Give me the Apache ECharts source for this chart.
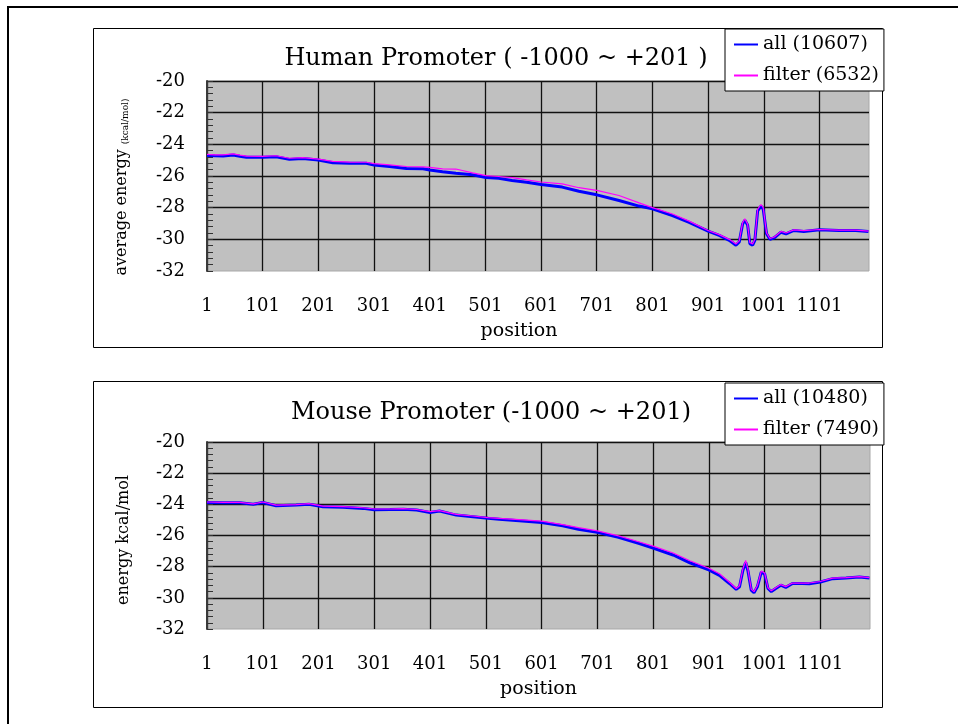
<!DOCTYPE html>
<html>
<head>
<meta charset="utf-8">
<script src="https://cdn.jsdelivr.net/npm/echarts@6/dist/echarts.min.js"></script>
<style>
html,body{margin:0;padding:0;background:#fff;}
#c{width:958px;height:724px;}
</style>
</head>
<body>
<div id="c"></div>
<script>
// ---- data ----
const xTicks = [1, 101, 201, 301, 401, 501, 601, 701, 801, 901, 1001, 1101];
const yTicks = [-20, -22, -24, -26, -28, -30, -32];

const humanTitle = 'Human Promoter ( -1000 ~ +201 )';
const mouseTitle = 'Mouse Promoter (-1000 ~ +201)';
const humanNames = ['all (10607)', 'filter (6532)'];
const mouseNames = ['all (10480)', 'filter (7490)'];

const humanPos = [1,15,30,48,60,72,101,125,149,173,201,227,257,287,301,329,359,389,401,424,448,478,502,525,549,575,601,639,669,701,741,777,801,837,867,901,921,939,951,957,963,967,972,976,981,985,990,996,1000,1006,1012,1020,1032,1041,1055,1073,1101,1136,1166,1189];
const humanAll = [-24.70,-24.72,-24.74,-24.67,-24.75,-24.82,-24.82,-24.78,-24.95,-24.90,-24.99,-25.16,-25.20,-25.20,-25.30,-25.40,-25.52,-25.54,-25.62,-25.73,-25.83,-25.92,-26.10,-26.15,-26.28,-26.40,-26.53,-26.70,-26.96,-27.19,-27.55,-27.90,-28.07,-28.50,-28.93,-29.48,-29.75,-30.06,-30.37,-30.16,-29.03,-28.80,-29.10,-30.27,-30.37,-30.06,-28.20,-27.90,-28.10,-29.65,-30.00,-29.90,-29.55,-29.65,-29.44,-29.50,-29.40,-29.44,-29.44,-29.50];
const humanFilter = [-24.63,-24.66,-24.66,-24.60,-24.68,-24.74,-24.76,-24.72,-24.88,-24.84,-24.93,-25.08,-25.12,-25.13,-25.22,-25.30,-25.40,-25.42,-25.45,-25.55,-25.56,-25.80,-25.98,-26.03,-26.10,-26.25,-26.38,-26.50,-26.74,-26.91,-27.23,-27.70,-28.00,-28.40,-28.85,-29.44,-29.70,-30.00,-30.30,-30.10,-28.95,-28.70,-29.05,-30.20,-30.30,-30.00,-28.10,-27.80,-28.00,-29.60,-29.95,-29.85,-29.50,-29.60,-29.40,-29.45,-29.38,-29.42,-29.42,-29.48];

const mousePos = [1,30,60,84,101,125,161,184,209,245,281,301,329,353,377,401,418,448,478,505,525,561,601,639,667,701,739,775,801,837,867,901,920,938,950,956,962,967,971,977,982,988,995,1001,1007,1013,1021,1030,1039,1051,1069,1081,1101,1123,1147,1171,1189];
const mouseAll = [-23.88,-23.90,-23.90,-24.00,-23.88,-24.09,-24.05,-23.99,-24.16,-24.18,-24.26,-24.35,-24.33,-24.31,-24.37,-24.52,-24.43,-24.69,-24.80,-24.90,-24.95,-25.05,-25.16,-25.37,-25.60,-25.80,-26.12,-26.50,-26.80,-27.25,-27.75,-28.21,-28.56,-29.08,-29.46,-29.29,-28.25,-27.73,-28.25,-29.50,-29.67,-29.29,-28.35,-28.46,-29.40,-29.60,-29.40,-29.19,-29.33,-29.08,-29.08,-29.10,-28.98,-28.77,-28.73,-28.67,-28.73];
const mouseFilter = [-23.85,-23.87,-23.88,-23.97,-23.85,-24.05,-24.02,-23.96,-24.12,-24.15,-24.22,-24.30,-24.30,-24.28,-24.33,-24.47,-24.40,-24.64,-24.75,-24.85,-24.90,-24.98,-25.08,-25.30,-25.50,-25.70,-26.02,-26.40,-26.68,-27.12,-27.62,-28.10,-28.45,-29.00,-29.40,-29.22,-28.15,-27.60,-28.15,-29.45,-29.60,-29.22,-28.28,-28.40,-29.35,-29.55,-29.35,-29.15,-29.28,-29.05,-29.05,-29.05,-28.95,-28.74,-28.70,-28.64,-28.70];

// ---- build chart ----
const FONT = 'DejaVu Serif';
const zip = (xs, ys) => xs.map((x, i) => [x, ys[i]]);

function xAxisCfg(gi, extraNameStyle) {
  return {
    type: 'value', gridIndex: gi, min: xTicks[0], max: 1190, interval: xTicks[1] - xTicks[0],
    axisLine: { show: false },
    axisTick: { show: false },
    axisLabel: { margin: 26, showMaxLabel: false, fontFamily: FONT, fontSize: 18, color: '#000',
      formatter: v => xTicks.indexOf(v) >= 0 ? String(v) : '' },
    splitLine: { show: true, showMaxLine: false, lineStyle: { color: '#111', width: 1.3 } },
    name: 'position', nameLocation: 'middle', nameGap: 51,
    nameTextStyle: Object.assign({ fontFamily: FONT, fontSize: 19, color: '#000' }, extraNameStyle || {})
  };
}
function yAxisCfg(gi) {
  return {
    type: 'value', gridIndex: gi, min: yTicks[yTicks.length - 1], max: yTicks[0], interval: 2,
    axisLine: { show: true, lineStyle: { color: '#3a3a3a', width: 2 } },
    axisTick: { show: true, inside: true, length: 6, lineStyle: { color: '#333' } },
    minorTick: { show: true, splitNumber: 5, length: 6, lineStyle: { color: '#333' } },
    axisLabel: { margin: 22, fontFamily: FONT, fontSize: 18, color: '#000' },
    splitLine: { show: true, showMinLine: false, lineStyle: { color: '#111', width: 1.3 } }
  };
}
function legendCfg(names, top) {
  return {
    data: names, orient: 'vertical', left: 725, top: top,
    padding: [6, 5, 6, 8], itemGap: 12, itemWidth: 24, itemHeight: 12,
    backgroundColor: '#fff', borderColor: '#000', borderWidth: 1, borderRadius: 0,
    selectedMode: false,
    itemStyle: { color: 'rgba(0,0,0,0)', borderWidth: 0, opacity: 0 },
    textStyle: { fontFamily: FONT, fontSize: 19, color: '#000' }
  };
}
function lineSeries(name, data, gi, color, width) {
  return {
    name: name, type: 'line', xAxisIndex: gi, yAxisIndex: gi, data: data,
    symbol: 'none', showSymbol: false, smooth: false, animation: false, silent: true,
    lineStyle: { color: color, width: width }, itemStyle: { color: color }
  };
}

const chart = echarts.init(document.getElementById('c'), null, { renderer: 'canvas' });
chart.setOption({
  backgroundColor: '#fff',
  animation: false,
  title: [
    { text: humanTitle, left: 491, top: 42, textAlign: 'center',
      textStyle: { fontFamily: FONT, fontSize: 24, fontWeight: 'normal', color: '#000' } },
    { text: mouseTitle, left: 486, top: 396, textAlign: 'center',
      textStyle: { fontFamily: FONT, fontSize: 24, fontWeight: 'normal', color: '#000' } }
  ],
  legend: [legendCfg(humanNames, 29), legendCfg(mouseNames, 383)],
  grid: [
    { left: 207, top: 81, width: 662, height: 190, show: true, backgroundColor: '#c0c0c0', borderColor: '#a8a8a8', borderWidth: 1 },
    { left: 207, top: 442, width: 663, height: 187, show: true, backgroundColor: '#c0c0c0', borderColor: '#a8a8a8', borderWidth: 1 }
  ],
  xAxis: [xAxisCfg(0, { padding: [0, 38, 0, 0] }), xAxisCfg(1)],
  yAxis: [yAxisCfg(0), yAxisCfg(1)],
  graphic: [
    { type: 'rect', z: -10, shape: { x: 8, y: 7, width: 1000, height: 1000 }, style: { fill: 'none', stroke: '#000', lineWidth: 2 } },
    { type: 'rect', z: -10, shape: { x: 93.5, y: 28.5, width: 789, height: 319 }, style: { fill: '#fff', stroke: '#000', lineWidth: 1 } },
    { type: 'rect', z: -10, shape: { x: 93.5, y: 381.5, width: 789, height: 326 }, style: { fill: '#fff', stroke: '#000', lineWidth: 1 } },
    { type: 'text', x: 122, y: 187, rotation: Math.PI / 2,
      style: { text: 'average energy {s|(kcal/mol)}', font: '16px "DejaVu Serif"', fill: '#000', align: 'center', verticalAlign: 'middle',
        rich: { s: { fontSize: 9, fontFamily: FONT, verticalAlign: 'bottom', fill: '#000' } } } },
    { type: 'text', x: 124, y: 540, rotation: Math.PI / 2,
      style: { text: 'energy kcal/mol', font: '16px "DejaVu Serif"', fill: '#000', align: 'center', verticalAlign: 'middle' } }
  ],
  series: [
    lineSeries(humanNames[0], zip(humanPos, humanAll), 0, '#0000ff', 3),
    lineSeries(humanNames[1], zip(humanPos, humanFilter), 0, '#ff00ff', 1.2),
    lineSeries(mouseNames[0], zip(mousePos, mouseAll), 1, '#0000ff', 3),
    lineSeries(mouseNames[1], zip(mousePos, mouseFilter), 1, '#ff00ff', 1.2)
  ]
});
</script>
</body>
</html>
